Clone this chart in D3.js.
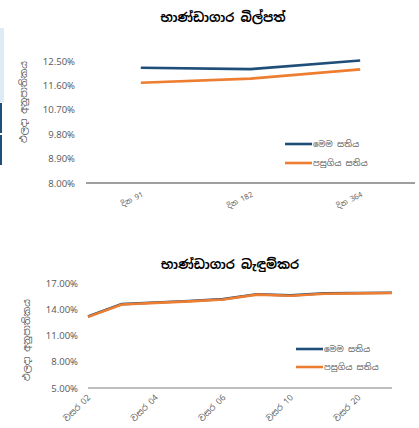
<!DOCTYPE html>
<html><head><meta charset="utf-8">
<script src="https://cdn.jsdelivr.net/npm/d3@7/dist/d3.min.js"></script>
<style>
html,body{margin:0;padding:0;background:#fff;}
svg{display:block;}
text{font-family:"Noto Sans Sinhala","Noto Sans","Liberation Sans",sans-serif;}
</style></head>
<body>
<svg id="c" width="419" height="428"></svg>
<script>
// ---- data ----
const billCategories = ["දින 91", "දින 182", "දින 364"];
const billThisWeek = [12.25, 12.20, 12.52];
const billLastWeek = [11.70, 11.85, 12.19];
const billTicks = [8.0, 8.9, 9.8, 10.7, 11.6, 12.5];

const bondCategories = ["වසර 02","වසර 03","වසර 04","වසර 05","වසර 06","වසර 08","වසර 10","වසර 15","වසර 20","වසර 30"];
const bondThisWeek = [13.17, 14.59, 14.77, 14.94, 15.16, 15.71, 15.59, 15.82, 15.85, 15.89];
const bondLastWeek = [13.13, 14.55, 14.73, 14.90, 15.12, 15.67, 15.55, 15.78, 15.81, 15.86];
const bondTicks = [5, 8, 11, 14, 17];

const seriesNames = ["මෙම සතිය", "පසුගිය සතිය"];
const titles = ["භාණ්ඩාගාර බිල්පත්", "භාණ්ඩාගාර බැඳුම්කර"];
const yTitle = "ඵලදා අනුපාතිකය";

const BLUE = "#1F4E79", ORANGE = "#ED7D31", GREY = "#595959";
const svg = d3.select("#c");

// left-edge decoration
svg.append("rect").attr("x",0).attr("y",28).attr("width",4).attr("height",74).attr("fill","#DDEBF7");
svg.append("rect").attr("x",0).attr("y",103).attr("width",2).attr("height",30).attr("fill",BLUE);
svg.append("rect").attr("x",0).attr("y",135).attr("width",2).attr("height",30).attr("fill",BLUE);

function drawChart(cfg){
  const g = svg.append("g");
  const y = d3.scaleLinear().domain(cfg.yDomain).range(cfg.yRange);
  let xPos;
  if (cfg.band) {
    const x = d3.scaleBand().domain(cfg.categories).range(cfg.xRange);
    xPos = c => x(c) + x.bandwidth()/2;
  } else {
    const x = d3.scalePoint().domain(cfg.categories).range(cfg.xRange);
    xPos = c => x(c);
  }
  // title
  g.append("text").attr("x", cfg.titleX).attr("y", cfg.titleY)
    .attr("text-anchor","middle").attr("font-size",12.5).attr("font-weight","bold")
    .attr("fill","#000").text(cfg.title);
  // y axis labels
  const yAxis = d3.axisLeft(y).tickValues(cfg.ticks).tickSize(0).tickPadding(0)
    .tickFormat(d => d.toFixed(2) + "%");
  const ya = g.append("g").attr("transform", `translate(${cfg.yLabelX},0)`).call(yAxis);
  ya.select(".domain").remove();
  ya.selectAll("text").attr("fill",GREY).attr("font-size",9.5)
    .attr("font-family","'Liberation Sans',Arial,sans-serif");
  // y title
  g.append("text").attr("transform", `translate(${cfg.yTitleX},${cfg.yTitleY}) rotate(-90)`)
    .attr("text-anchor","middle").attr("font-size",9.5).attr("fill",GREY).text(yTitle);
  // x axis line
  g.append("line").attr("x1",cfg.xRange[0]).attr("x2",cfg.xRange[1])
    .attr("y1",y(cfg.yDomain[0])).attr("y2",y(cfg.yDomain[0]))
    .attr("stroke",cfg.axisColor).attr("stroke-width",1.2);
  // x labels
  cfg.categories.forEach((c,i) => {
    if (cfg.labelEvery && i % cfg.labelEvery !== 0) return;
    g.append("text")
      .attr("transform", `translate(${xPos(c)+cfg.labelDx},${y(cfg.yDomain[0])+cfg.labelDy}) rotate(${cfg.labelRot})`)
      .attr("text-anchor","end").attr("font-size",cfg.labelSize).attr("fill",GREY).text(c);
  });
  // lines
  const line = d3.line().x((d,i) => xPos(cfg.categories[i])).y(d => y(d));
  g.append("path").datum(cfg.s1).attr("d",line).attr("fill","none")
    .attr("stroke",BLUE).attr("stroke-width",2.6).attr("stroke-linejoin","round");
  g.append("path").datum(cfg.s2).attr("d",line).attr("fill","none")
    .attr("stroke",ORANGE).attr("stroke-width",2.6).attr("stroke-linejoin","round");
  // legend
  [BLUE, ORANGE].forEach((col,i) => {
    const ly = cfg.legY + i*cfg.legStep;
    g.append("line").attr("x1",cfg.legX).attr("x2",cfg.legX+27).attr("y1",ly).attr("y2",ly)
      .attr("stroke",col).attr("stroke-width",2.6);
    g.append("text").attr("x",cfg.legX+28).attr("y",ly).attr("dy","0.35em")
      .attr("font-size",8.5).attr("fill",GREY).text(seriesNames[i]);
  });
}

drawChart({
  title: titles[0], titleX: 223, titleY: 22,
  categories: billCategories, band: true, xRange: [86, 415],
  yDomain: [8, 12.5], yRange: [183, 61], ticks: billTicks, yLabelX: 75,
  yTitleX: 27, yTitleY: 102, axisColor: "#404040",
  labelDx: 3, labelDy: 13, labelRot: -27, labelSize: 7.5,
  s1: billThisWeek, s2: billLastWeek,
  legX: 285, legY: 144, legStep: 19
});

drawChart({
  title: titles[1], titleX: 230, titleY: 269,
  categories: bondCategories, band: false, xRange: [88, 392],
  yDomain: [5, 17], yRange: [388, 283], ticks: bondTicks, yLabelX: 78,
  yTitleX: 30, yTitleY: 340, axisColor: "#7F7F7F",
  labelDx: 3, labelDy: 10, labelRot: -45, labelSize: 8.5, labelEvery: 2,
  s1: bondThisWeek, s2: bondLastWeek,
  legX: 296, legY: 349, legStep: 18
});
</script>
</body></html>
